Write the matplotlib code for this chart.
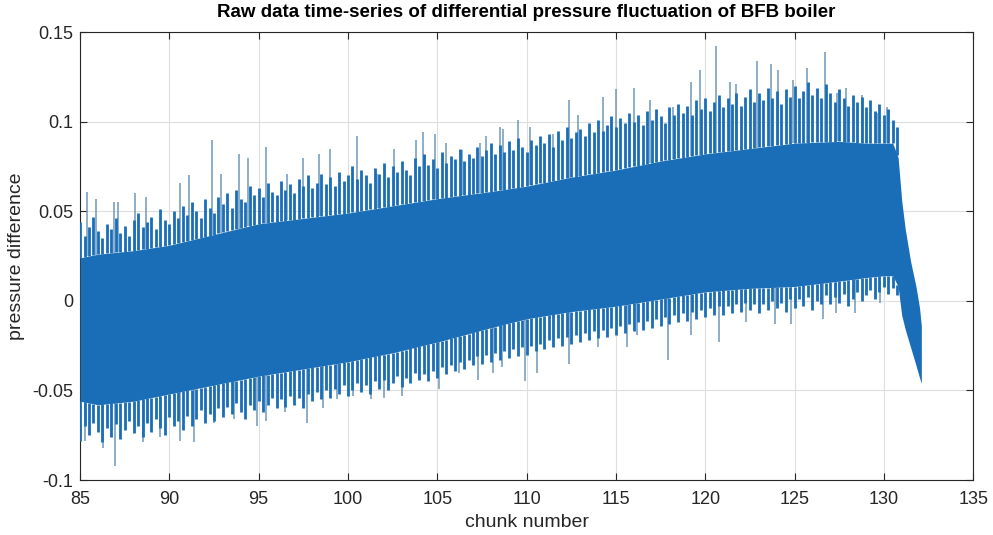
import numpy as np
import matplotlib.pyplot as plt

plt.rcParams["font.family"] = ["Liberation Sans", "DejaVu Sans"]

# solid core of the signal (envelope)
chunk = [85.0, 86.0, 88.0, 90.0, 92.5, 95.0, 97.5, 100.0, 102.5, 105.0, 108.0,
         110.0, 112.5, 115.0, 117.5, 120.0, 122.5, 125.0, 127.5, 129.0, 130.0,
         130.5, 130.8, 131.0, 131.2, 131.5, 131.8, 132.0, 132.1]
body_top = [0.024, 0.026, 0.028, 0.031, 0.037, 0.043, 0.046, 0.049, 0.053, 0.057, 0.061,
            0.064, 0.069, 0.073, 0.078, 0.082, 0.085, 0.088, 0.089, 0.088, 0.088,
            0.088, 0.080, 0.056, 0.040, 0.022, 0.008, -0.004, -0.014]
body_bot = [-0.056, -0.058, -0.056, -0.052, -0.047, -0.042, -0.038, -0.034, -0.029, -0.023, -0.015,
            -0.010, -0.006, -0.003, 0.001, 0.005, 0.007, 0.008, 0.011, 0.013, 0.014,
            0.014, 0.008, -0.008, -0.016, -0.026, -0.036, -0.043, -0.046]

# ragged edge of the dense oscillation, one value every quarter chunk from 85
edge_top = [0.044, 0.036, 0.041, 0.047, 0.039, 0.035, 0.043, 0.040,
            0.046, 0.038, 0.042, 0.036, 0.045, 0.049, 0.041, 0.044,
            0.047, 0.040, 0.051, 0.045, 0.043, 0.050, 0.046, 0.053,
            0.048, 0.055, 0.050, 0.046, 0.057, 0.052, 0.049, 0.058,
            0.054, 0.060, 0.052, 0.062, 0.057, 0.055, 0.064, 0.059,
            0.063, 0.058, 0.066, 0.061, 0.059, 0.067, 0.062, 0.065,
            0.060, 0.068, 0.064, 0.070, 0.063, 0.066, 0.071, 0.065,
            0.069, 0.064, 0.072, 0.067, 0.070, 0.075, 0.068, 0.073,
            0.070, 0.066, 0.074, 0.071, 0.077, 0.069, 0.075, 0.072,
            0.078, 0.073, 0.070, 0.080, 0.075, 0.082, 0.076, 0.079,
            0.074, 0.083, 0.077, 0.081, 0.079, 0.085, 0.078, 0.082,
            0.080, 0.086, 0.081, 0.084, 0.088, 0.082, 0.087, 0.083,
            0.089, 0.084, 0.091, 0.086, 0.083, 0.090, 0.087, 0.092,
            0.088, 0.093, 0.086, 0.095, 0.090, 0.097, 0.091, 0.094,
            0.096, 0.092, 0.099, 0.094, 0.101, 0.095, 0.098, 0.103,
            0.097, 0.102, 0.099, 0.105, 0.100, 0.104, 0.098, 0.106,
            0.101, 0.107, 0.103, 0.099, 0.108, 0.104, 0.110, 0.105,
            0.109, 0.104, 0.112, 0.107, 0.113, 0.106, 0.111, 0.115,
            0.108, 0.113, 0.110, 0.116, 0.109, 0.114, 0.118, 0.111,
            0.116, 0.112, 0.119, 0.113, 0.117, 0.110, 0.118, 0.114,
            0.120, 0.113, 0.117, 0.122, 0.115, 0.119, 0.113, 0.121,
            0.116, 0.111, 0.118, 0.113, 0.109, 0.115, 0.111, 0.114,
            0.108, 0.112, 0.106, 0.110, 0.104, 0.107, 0.101, 0.097]
edge_bot = [-0.078, -0.070, -0.075, -0.068, -0.073, -0.079, -0.071, -0.076,
            -0.069, -0.077, -0.072, -0.067, -0.074, -0.070, -0.076, -0.068,
            -0.073, -0.066, -0.071, -0.075, -0.065, -0.070, -0.067, -0.072,
            -0.064, -0.070, -0.066, -0.061, -0.068, -0.063, -0.067, -0.060,
            -0.065, -0.059, -0.063, -0.057, -0.062, -0.066, -0.058, -0.061,
            -0.056, -0.062, -0.058, -0.054, -0.060, -0.055, -0.059, -0.053,
            -0.058, -0.054, -0.060, -0.052, -0.056, -0.051, -0.055, -0.050,
            -0.054, -0.049, -0.052, -0.047, -0.053, -0.050, -0.046, -0.051,
            -0.047, -0.052, -0.045, -0.049, -0.044, -0.050, -0.046, -0.042,
            -0.048, -0.043, -0.046, -0.040, -0.044, -0.041, -0.045, -0.039,
            -0.043, -0.037, -0.041, -0.036, -0.039, -0.034, -0.038, -0.033,
            -0.036, -0.031, -0.035, -0.030, -0.034, -0.029, -0.033, -0.028,
            -0.032, -0.027, -0.031, -0.026, -0.030, -0.025, -0.028, -0.024,
            -0.027, -0.022, -0.026, -0.021, -0.025, -0.020, -0.024, -0.019,
            -0.023, -0.018, -0.022, -0.017, -0.021, -0.016, -0.020, -0.015,
            -0.019, -0.014, -0.018, -0.013, -0.017, -0.012, -0.016, -0.011,
            -0.015, -0.010, -0.014, -0.009, -0.013, -0.008, -0.012, -0.007,
            -0.011, -0.006, -0.010, -0.005, -0.009, -0.004, -0.008, -0.003,
            -0.008, -0.003, -0.007, -0.002, -0.006, -0.001, -0.005, -0.002,
            -0.007, -0.002, -0.005, 0.000, -0.004, -0.001, -0.006, 0.001,
            -0.004, 0.001, -0.003, 0.002, -0.005, 0.000, -0.002, 0.003,
            -0.002, 0.002, -0.001, 0.004, -0.003, 0.001, 0.005, 0.000,
            0.003, 0.006, 0.001, 0.005, 0.008, 0.004, 0.007, 0.003]

# tall upward spikes (chunk, peak value)
up_x = [85.0, 85.4, 85.9, 86.9, 87.1, 88.1, 88.7, 90.6, 91.1, 92.4, 92.9, 93.9, 94.4,
        95.4, 96.6, 97.5, 98.4, 99.0, 100.5, 101.6, 102.6, 103.8, 104.2, 104.9, 105.5,
        106.4, 107.4, 107.7, 108.5, 108.7, 109.5, 110.2, 111.5, 112.4, 112.9, 114.3,
        115.0, 116.0, 116.9, 118.2, 119.2, 119.7, 120.6, 121.4, 121.7, 122.9, 123.7,
        124.1, 124.9, 125.7, 126.7, 127.4, 127.9, 128.8, 129.6, 130.2]
up_y = [0.069, 0.061, 0.057, 0.055, 0.055, 0.060, 0.058, 0.066, 0.070, 0.090, 0.071, 0.082, 0.080,
        0.086, 0.071, 0.080, 0.082, 0.085, 0.092, 0.071, 0.085, 0.090, 0.094, 0.093, 0.088,
        0.084, 0.088, 0.092, 0.097, 0.096, 0.101, 0.097, 0.093, 0.112, 0.104, 0.114,
        0.118, 0.119, 0.112, 0.108, 0.122, 0.129, 0.142, 0.122, 0.121, 0.134, 0.132,
        0.129, 0.123, 0.130, 0.139, 0.116, 0.119, 0.115, 0.105, 0.108]

# tall downward spikes (chunk, trough value)
dn_x = [85.0, 85.3, 86.3, 86.95, 88.5, 89.5, 90.6, 91.4, 92.5, 93.6, 94.9, 95.4, 96.5,
        97.7, 98.6, 99.4, 100.3, 101.3, 102.0, 103.0, 104.0, 105.1, 106.2, 107.3, 108.1,
        108.6, 109.9, 110.6, 112.4, 114.0, 115.6, 116.2, 117.9, 119.2, 120.8, 122.3,
        123.9, 124.8, 126.6, 127.3, 128.4, 129.8]
dn_y = [-0.096, -0.078, -0.082, -0.092, -0.079, -0.076, -0.078, -0.079, -0.068, -0.066, -0.070, -0.067, -0.062,
        -0.068, -0.060, -0.055, -0.053, -0.055, -0.054, -0.053, -0.043, -0.049, -0.040, -0.044, -0.040,
        -0.037, -0.045, -0.040, -0.035, -0.026, -0.026, -0.019, -0.033, -0.019, -0.023, -0.012,
        -0.013, -0.013, -0.010, -0.007, -0.007, -0.001]

blue = "#1a6eb8"
spike = "#6f97b8"

fig = plt.figure(figsize=(9.93, 5.35), dpi=100)
ax = fig.add_axes([0.0806, 0.1028, 0.8994, 0.8372])

edge_x = 85.0 + 0.25 * np.arange(len(edge_top))

ax.vlines(up_x, np.interp(up_x, chunk, body_top), up_y, color=spike, linewidth=1.1, zorder=2)
ax.vlines(dn_x, dn_y, np.interp(dn_x, chunk, body_bot), color=spike, linewidth=1.1, zorder=2)
ax.vlines(edge_x, np.interp(edge_x, chunk, body_top), edge_top, color=blue, linewidth=2.0, zorder=3)
ax.vlines(edge_x, edge_bot, np.interp(edge_x, chunk, body_bot), color=blue, linewidth=2.0, zorder=3)
ax.fill_between(chunk, body_bot, body_top, color=blue, linewidth=0, zorder=3)

ax.set_xlim(85, 135)
ax.set_ylim(-0.1, 0.15)
ax.set_xticks(np.arange(85, 136, 5))
ax.set_yticks([-0.1, -0.05, 0, 0.05, 0.1, 0.15])
ax.set_yticklabels(["-0.1", "-0.05", "0", "0.05", "0.1", "0.15"])
ax.grid(True, color="#dedede", linewidth=0.8)
ax.set_axisbelow(True)
ax.tick_params(direction="in", top=True, right=True, labelsize=13, colors="#262626",
               length=5)
ax.tick_params(axis="x", pad=8)
ax.tick_params(axis="y", pad=5)
for s in ax.spines.values():
    s.set_color("#262626")
    s.set_linewidth(0.8)

ax.set_xlabel("chunk number", fontsize=14, color="#262626", labelpad=4)
ax.set_ylabel("pressure difference", fontsize=14, color="#262626", labelpad=5)
ax.set_title("Raw data time-series of differential pressure fluctuation of BFB boiler",
             fontsize=13.5, fontweight="bold", pad=11)

fig.savefig("out.png", dpi=100)
